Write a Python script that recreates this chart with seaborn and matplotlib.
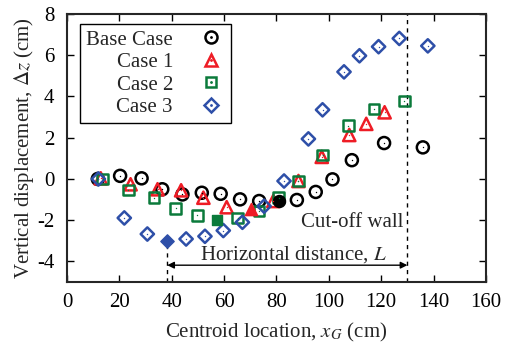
import matplotlib
matplotlib.use("Agg")
import matplotlib.pyplot as plt
import seaborn as sns
from matplotlib.lines import Line2D
from matplotlib.legend_handler import HandlerTuple

# centroid location (cm) and vertical displacement (cm) for each case
base_x = [11.8, 20.3, 28.5, 36.4, 44.1, 51.5, 58.7, 66.1, 73.4, 81.0, 87.8, 95.0, 101.4, 108.8, 121.1, 135.9]
base_y = [0.0, 0.15, 0.03, -0.5, -0.75, -0.67, -0.72, -0.99, -1.07, -1.07, -1.02, -0.63, -0.02, 0.91, 1.74, 1.53]
base_min = 9

case1_x = [12.9, 24.3, 34.6, 43.6, 52.1, 61.0, 70.2, 78.8, 88.4, 97.3, 107.8, 114.3, 121.3]
case1_y = [0.03, -0.26, -0.5, -0.55, -0.91, -1.37, -1.48, -1.07, -0.1, 1.07, 2.13, 2.67, 3.23]
case1_min = 6

case2_x = [13.6, 23.4, 33.2, 41.5, 49.8, 57.2, 65.2, 73.4, 80.8, 88.4, 97.6, 107.5, 117.3, 128.8]
case2_y = [0.0, -0.54, -0.91, -1.43, -1.77, -2.0, -1.89, -1.56, -0.91, -0.1, 1.17, 2.59, 3.4, 3.77]
case2_min = 5

case3_x = [12.0, 21.9, 30.7, 38.3, 45.5, 52.7, 59.7, 67.0, 75.3, 82.9, 92.2, 97.6, 105.8, 111.7, 119.0, 126.9, 137.8]
case3_y = [0.0, -1.89, -2.67, -3.0, -2.91, -2.78, -2.5, -2.1, -1.32, -0.1, 1.94, 3.35, 5.19, 5.97, 6.41, 6.81, 6.45]
case3_min = 3

wall_x = 130.0

sns.set_style("ticks")
plt.rcParams["font.family"] = ["Liberation Serif", "DejaVu Serif"]
plt.rcParams["mathtext.fontset"] = "stix"
plt.rcParams["axes.unicode_minus"] = False

fig = plt.figure(figsize=(5.11, 3.47), dpi=100)
ax = fig.add_axes([0.131, 0.187, 0.82, 0.773])

series = [
    ("Base Case", base_x, base_y, base_min, "o", "black", 75),
    ("Case 1", case1_x, case1_y, case1_min, "^", "#ee1c25", 78),
    ("Case 2", case2_x, case2_y, case2_min, "s", "#0b7a3b", 58),
    ("Case 3", case3_x, case3_y, case3_min, "D", "#2e4fa8", 46),
]

handles = []
for name, xs, ys, imin, mk, col, s in series:
    ox = [v for i, v in enumerate(xs) if i != imin]
    oy = [v for i, v in enumerate(ys) if i != imin]
    sns.scatterplot(x=ox, y=oy, marker=mk, s=s, facecolor="none",
                    edgecolor=col, linewidth=1.8, ax=ax, zorder=3)
    sns.scatterplot(x=ox, y=oy, marker=".", s=4, color=col,
                    edgecolor=col, linewidth=0, ax=ax, zorder=4)
    sns.scatterplot(x=[xs[imin]], y=[ys[imin]], marker=mk, s=s, color=col,
                    edgecolor=col, linewidth=1.0, ax=ax, zorder=4)
    h1 = Line2D([], [], marker=mk, linestyle="none", markersize=s ** 0.5,
                markerfacecolor="none", markeredgecolor=col, markeredgewidth=1.8)
    h2 = Line2D([], [], marker=".", linestyle="none", markersize=2, color=col)
    handles.append(((h1, h2), name))

# cut-off wall and horizontal distance L
ax.axvline(wall_x, color="black", linestyle=(0, (3, 3)), linewidth=1.0, zorder=1)
ax.plot([case3_x[case3_min]] * 2, [-5, case3_y[case3_min]], color="black",
        linestyle=(0, (3, 3)), linewidth=1.0, zorder=1)
ax.annotate("", xy=(case3_x[case3_min], -4.18), xytext=(wall_x, -4.18),
            arrowprops=dict(arrowstyle="<|-|>", color="black", lw=1.0,
                            mutation_scale=10, shrinkA=0, shrinkB=0))
ax.text(86.5, -3.65, "Horizontal distance, $L$", fontsize=15, ha="center", va="center")
ax.text(128.5, -2.1, "Cut-off wall", fontsize=15, ha="right", va="center")

ax.set_xlim(0, 160)
ax.set_ylim(-5, 8)
ax.set_xticks(range(0, 161, 20))
ax.set_yticks(range(-4, 9, 2))
ax.tick_params(direction="in", length=5, width=1, top=True, right=True,
               labelsize=15, colors="black")
ax.tick_params(axis="x", pad=8)
ax.tick_params(axis="y", pad=9)
for sp in ax.spines.values():
    sp.set_linewidth(1.5)
    sp.set_visible(True)
ax.set_xlabel("Centroid location, $x_G$ (cm)", fontsize=15, labelpad=6.5)
ax.set_ylabel(r"Vertical displacement, $\Delta z$ (cm)", fontsize=15, labelpad=1)

leg = ax.legend([h for h, _ in handles], [n for _, n in handles],
                handler_map={tuple: HandlerTuple(ndivide=1, pad=0)},
                loc="upper left", bbox_to_anchor=(0.031, 0.963), markerfirst=False,
                fontsize=15, frameon=True, fancybox=False, edgecolor="black",
                framealpha=1, handlelength=1.3, handletextpad=1.2,
                labelspacing=0.14, borderpad=0.3, borderaxespad=0)
leg.get_frame().set_linewidth(1.0)

fig.savefig("out.png", dpi=100)
